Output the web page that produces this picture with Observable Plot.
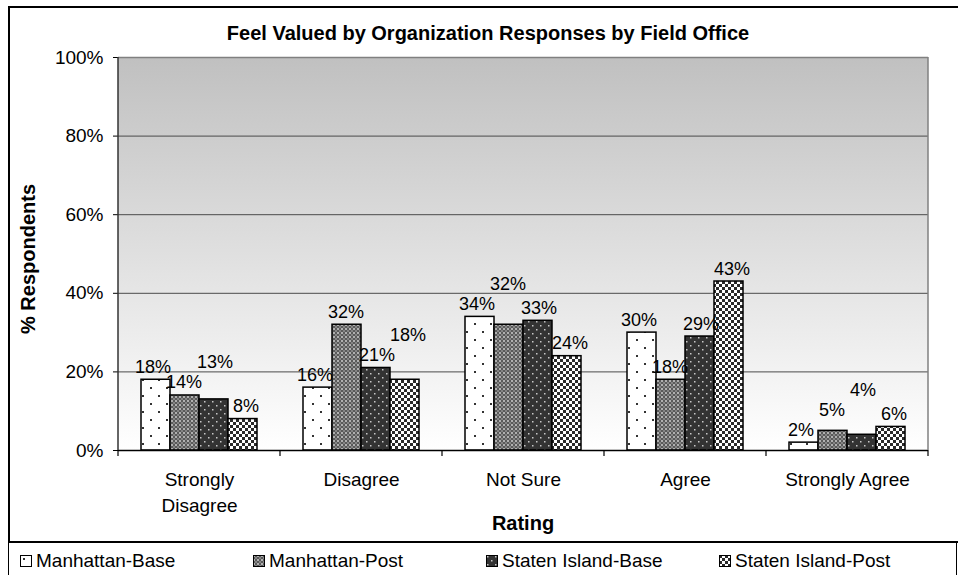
<!DOCTYPE html>
<html>
<head>
<meta charset="utf-8">
<script src="https://cdn.jsdelivr.net/npm/d3@7"></script>
<script src="https://cdn.jsdelivr.net/npm/@observablehq/plot@0.6"></script>
<style>
  body { margin: 0; background: #fff; font-family: Arial, "Liberation Sans", sans-serif; }
  #chart { position: absolute; left: 8px; top: 6px; width: 960px; height: 537px; border: 2px solid #000; box-sizing: border-box; background: #fff; }
  #plot { position: absolute; left: 0; top: 0; }
  #title { position: absolute; left: 0; width: 100%; top: 13px; text-align: center; font-weight: bold; font-size: 20px; line-height: 24px; }
  #ytitle { position: absolute; left: 18px; top: 251px; transform: translate(-50%, -50%) rotate(-90deg); font-weight: bold; font-size: 20px; white-space: nowrap; line-height: 24px; }
  #xtitle { position: absolute; top: 503px; font-weight: bold; font-size: 20px; line-height: 24px; transform: translateX(-50%); white-space: nowrap; }
  #legend { position: absolute; left: 8px; top: 541px; width: 949px; height: 45px; border: 1px solid #000; box-sizing: border-box; padding-top: 7px; font-size: 19px; line-height: 24px; }
  .item { position: absolute; top: 7px; display: flex; align-items: center; white-space: nowrap; }
  .item svg { margin-right: 4px; }
</style>
</head>
<body>
<svg width="0" height="0" style="position:absolute">
  <defs>
    <linearGradient id="bgGrad" x1="0" y1="0" x2="0" y2="1">
      <stop offset="0" stop-color="#c0c0c0"/>
      <stop offset="1" stop-color="#ffffff"/>
    </linearGradient>
    <pattern id="pat0" width="16" height="16" patternUnits="userSpaceOnUse">
      <rect width="16" height="16" fill="#ffffff"/>
      <rect x="3" y="3" width="2" height="2" fill="#333"/>
      <rect x="11" y="11" width="2" height="2" fill="#333"/>
    </pattern>
    <pattern id="pat1" width="4" height="4" patternUnits="userSpaceOnUse">
      <rect width="4" height="4" fill="#5a5a5a"/>
      <rect x="0" y="0" width="2" height="2" fill="#b0b0b0"/>
      <rect x="2" y="2" width="2" height="2" fill="#858585"/>
    </pattern>
    <pattern id="pat2" width="8" height="8" patternUnits="userSpaceOnUse">
      <rect width="8" height="8" fill="#333333"/>
      <rect x="1" y="1" width="1.5" height="1.5" fill="#c8c8c8"/>
      <rect x="5" y="5" width="1.5" height="1.5" fill="#c8c8c8"/>
    </pattern>
    <pattern id="pat3" width="6" height="6" patternUnits="userSpaceOnUse">
      <rect width="6" height="6" fill="#ffffff"/>
      <rect x="0" y="0" width="3" height="3" fill="#2a2a2a"/>
      <rect x="3" y="3" width="3" height="3" fill="#2a2a2a"/>
    </pattern>
  </defs>
</svg>
<div id="chart">
  <div id="title">Feel Valued by Organization Responses by Field Office</div>
  <div id="ytitle">% Respondents</div>
  <div id="xtitle">Rating</div>
</div>
<div id="legend"></div>
<script>
// ---- data ----
const categories = ["Strongly Disagree", "Disagree", "Not Sure", "Agree", "Strongly Agree"];
const categoryLabels = ["Strongly\nDisagree", "Disagree", "Not Sure", "Agree", "Strongly Agree"];
const series = ["Manhattan-Base", "Manhattan-Post", "Staten Island-Base", "Staten Island-Post"];
const manhattanBase = [18, 16, 34, 30, 2];
const manhattanPost = [14, 32, 32, 18, 5];
const statenIslandBase = [13, 21, 33, 29, 4];
const statenIslandPost = [8, 18, 24, 43, 6];
const yTicks = [0, 20, 40, 60, 80, 100];
const patterns = ["url(#pat0)", "url(#pat1)", "url(#pat2)", "url(#pat3)"];

const W = 940, H = 532, MT = 49, MB = 90, ML = 107, MR = 21;
const pxPerUnit = (H - MT - MB) / 100;

const seriesValues = [manhattanBase, manhattanPost, statenIslandBase, statenIslandPost];
const rows = [];
categories.forEach((c, i) => {
  let prevLift = null, prevVal = null;
  series.forEach((s, j) => {
    const v = seriesValues[j][i];
    // label position (in data units): stagger a label upward when it would collide with its left neighbour
    let pos = v;
    if (prevVal !== null && Math.abs(v - (prevVal + prevLift)) * pxPerUnit < 15) pos = prevVal + prevLift + 20 / pxPerUnit;
    const lift = pos - v;
    rows.push({category: c, series: s, value: v, labelY: pos, idx: j});
    prevLift = lift; prevVal = v;
  });
});

const plot = Plot.plot({
  width: W, height: H,
  marginTop: MT, marginBottom: MB, marginLeft: ML, marginRight: MR,
  style: {fontFamily: "Arial, 'Liberation Sans', sans-serif", fontSize: "19px", color: "#000", background: "transparent", overflow: "visible"},
  fx: {domain: categories, paddingInner: 0, paddingOuter: 0, axis: null},
  x: {domain: series, paddingInner: 0, paddingOuter: 0.75, axis: null},
  y: {domain: [0, 100], ticks: yTicks, tickFormat: d => d + "%", tickSize: 5, tickPadding: 10, label: null},
  color: {type: "ordinal", domain: series, range: patterns},
  marks: [
    Plot.ruleY(yTicks.filter(d => d > 0 && d < 100), {stroke: "#4a4a4a", strokeWidth: 1}),
    Plot.ruleY([100], {stroke: "#808080", strokeWidth: 1.5}),
    Plot.barY(rows, {fx: "category", x: "series", y: "value", fill: "series", stroke: "#000", strokeWidth: 1.5}),
    Plot.ruleY([0], {stroke: "#000", strokeWidth: 1.5}),
    ...series.map((s, j) => Plot.text(rows.filter(d => d.idx === j), {fx: "category", x: "series", y: "labelY", text: d => d.value + "%", lineAnchor: "bottom", dy: -7, dx: (j - 1.5) * 2, fontSize: 18, fill: "#000"})),
    Plot.text(categories, {fx: d => d, text: (d, i) => categoryLabels[i], frameAnchor: "bottom", lineAnchor: "top", dy: 18, lineHeight: 1.33, fontSize: 19, fill: "#000"})
  ]
});
plot.id = "plot";
document.getElementById("chart").appendChild(plot);

// plot-area background, axis lines and category boundary ticks from the scales
const fx = plot.scale("fx"), ys = plot.scale("y");
const bw = fx.bandwidth;
const bounds = categories.map(c => fx.apply(c));
bounds.push(fx.apply(categories[categories.length - 1]) + bw);
const svg = d3.select(plot);
const y0 = ys.apply(0), y100 = ys.apply(100);
svg.insert("rect", "g")
  .attr("x", bounds[0]).attr("y", y100)
  .attr("width", bounds[bounds.length - 1] - bounds[0]).attr("height", y0 - y100)
  .attr("fill", "url(#bgGrad)");
const g = svg.append("g");
g.append("line").attr("x1", bounds[bounds.length - 1]).attr("x2", bounds[bounds.length - 1]).attr("y1", y100).attr("y2", y0).attr("stroke", "#808080").attr("stroke-width", 1.5);
g.append("line").attr("x1", bounds[0]).attr("x2", bounds[0]).attr("y1", y100).attr("y2", y0).attr("stroke", "#333").attr("stroke-width", 1.5);
bounds.forEach(b => g.append("line").attr("x1", b).attr("x2", b).attr("y1", y0).attr("y2", y0 + 6).attr("stroke", "#000").attr("stroke-width", 1.2));

// x title centered on plot area
document.getElementById("xtitle").style.left = ((bounds[0] + bounds[bounds.length - 1]) / 2) + "px";

// legend
const legend = d3.select("#legend");
series.forEach((s, i) => {
  const it = legend.append("div").attr("class", "item").style("left", (11 + i * 233) + "px");
  const sw = it.append("svg").attr("width", 12).attr("height", 12);
  sw.append("rect").attr("x", 0.5).attr("y", 0.5).attr("width", 11).attr("height", 11).attr("fill", patterns[i]).attr("stroke", "#000").attr("stroke-width", 1);
  it.append("span").text(s);
});
</script>
</body>
</html>
